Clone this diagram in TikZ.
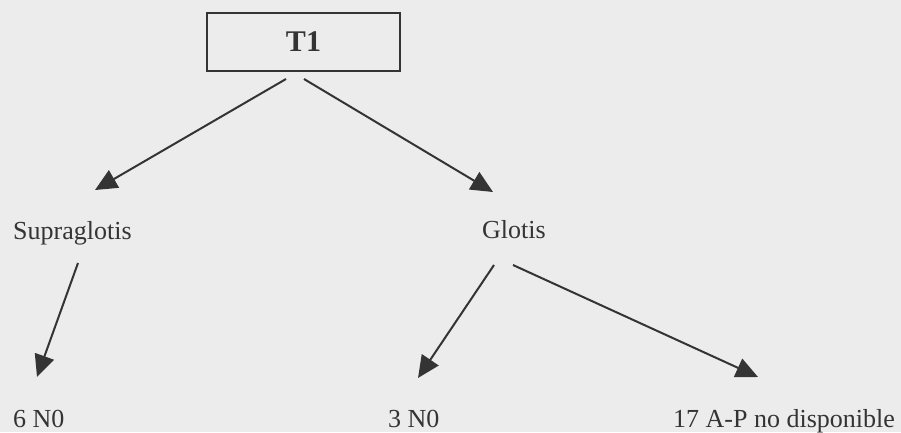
\documentclass[tikz,border=0pt]{standalone}
\usepackage{fontspec}
\setmainfont{Liberation Serif}
\usepackage{xcolor}
\usepackage{tikz}
\usetikzlibrary{arrows.meta}

\definecolor{paper}{RGB}{236,236,236}
\definecolor{ink}{RGB}{52,52,52}

\begin{document}
\begin{tikzpicture}[x=1pt, y=-1pt,
    rootbox/.style={draw=ink, line width=2pt, minimum width=193pt, minimum height=58pt,
      inner sep=0pt, text=ink, font=\fontsize{30}{34}\selectfont\bfseries},
    leaf/.style={anchor=base west, inner sep=0pt, text=ink, font=\fontsize{26}{30}\selectfont},
    arr/.style={draw=ink, line width=2pt, -{Triangle[length=22pt,width=20pt]}}]
    \fill[paper] (0,0) rectangle (901,432);
    \useasboundingbox (0,0) rectangle (901,432);

    % top box and the labels below it
    \node[rootbox] (t1) at (303.5,42) {T1};
    \node[leaf] (supra) at (13,239) {Supraglotis};
    \node[leaf] (glotis) at (482,238) {Glotis};
    \node[leaf] (n6) at (13,427) {6 N0};
    \node[leaf] (n3) at (388,427) {3 N0};
    \node[leaf] (n17) at (673,427) {17 A-P no disponible};

    % branches
    \draw[arr] ([shift={(-17.5,7)}]t1.south) -- ([shift={(82,-49)}]supra.base west);
    \draw[arr] ([shift={(0.5,7)}]t1.south) -- ([shift={(11,-46)}]glotis.base west);
    \draw[arr] ([shift={(65,24)}]supra.base west) -- ([shift={(24,-50)}]n6.base west);
    \draw[arr] ([shift={(12,27)}]glotis.base west) -- ([shift={(30,-49)}]n3.base west);
    \draw[arr] ([shift={(31,27)}]glotis.base west) -- ([shift={(85,-50)}]n17.base west);
\end{tikzpicture}
\end{document}
